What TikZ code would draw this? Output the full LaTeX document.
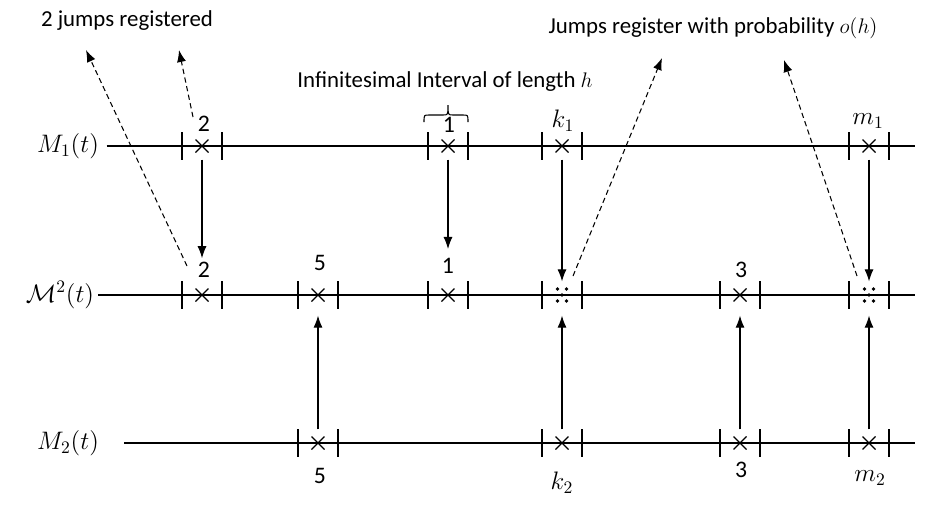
\documentclass[tikz,border=0pt]{standalone}
\usepackage{fontspec}
\setmainfont{Carlito}
\usetikzlibrary{arrows.meta}

\tikzset{
	slot/.style={minimum width=0.78cm, minimum height=0.52cm, inner sep=0pt},
	tick/.style={line width=0.9pt},
	num/.style={font=\fontsize{13.5}{15}\selectfont, inner sep=2pt},
	proc/.style={font=\fontsize{14}{16}\selectfont, inner sep=2pt},
	jumparrow/.style={-{Latex[length=2.4mm,width=1.8mm]}, line width=0.6pt},
	notearrow/.style={jumparrow, dash pattern=on 3pt off 2pt},
}

\begin{document}
\begin{tikzpicture}[x=0.02cm, y=-0.02cm, line width=0.7pt, font=\fontsize{13}{15}\selectfont]
	\useasboundingbox (0,0) rectangle (942,508);

	% process names and time lines
	\node[proc] (m1) at (68,146) {$M_1(t)$};
	\node[proc] (mm) at (60,295) {$\mathcal{M}^2(t)$};
	\node[proc] (m2) at (68,443) {$M_2(t)$};
	\coordinate (e1) at (915,146);
	\coordinate (e2) at (915,295);
	\coordinate (e3) at (915,443);
	\draw[shorten <=2pt] (m1.east) -- (e1);
	\draw (mm.east) -- (e2);
	\draw[shorten <=12pt] (m2.east) -- (e3);

	% intervals with one jump
	\foreach \n/\x/\y in {a1/202/146, a2/448/146, a3/562/146, a4/869/146,
		b1/202/295, b2/318/295, b3/448/295, b5/740/295,
		c1/318/443, c2/562/443, c3/740/443, c4/869/443} {
		\node[slot] (\n) at (\x,\y) {};
		\draw[tick] (\n.north west) -- (\n.south west);
		\draw[tick] (\n.north east) -- (\n.south east);
		\draw[line width=0.65pt] ([shift={(-6.5,-6.5)}]\n.center) -- ([shift={(6.5,6.5)}]\n.center);
		\draw[line width=0.65pt] ([shift={(-6.5,6.5)}]\n.center) -- ([shift={(6.5,-6.5)}]\n.center);
	}

	% intervals with two jumps
	\foreach \n/\x/\y in {b4/562/295, b6/869/295} {
		\node[slot] (\n) at (\x,\y) {};
		\draw[tick] (\n.north west) -- (\n.south west);
		\draw[tick] (\n.north east) -- (\n.south east);
		\foreach \dx/\dy in {-4.5/-6, 4.5/-6, 0/0, -4.5/6, 4.5/6}
			\fill ([shift={(\dx,\dy)}]\n.center) circle (1.1pt);
	}

	% jump labels
	\node[num] (la1) at (204,124) {2};
	\node[num] (la2) at (449,125) {1};
	\node[proc] (la3) at (563,121) {$k_1$};
	\node[proc] (la4) at (868,121) {$m_1$};
	\node[num] (lb1) at (204,270) {2};
	\node[num] (lb2) at (320,263) {5};
	\node[num] (lb3) at (448,266) {1};
	\node[num] (lb5) at (741,270) {3};
	\node[num] (lc1) at (320,476) {5};
	\node[proc] (lc2) at (562,483) {$k_2$};
	\node[num] (lc3) at (741,470) {3};
	\node[proc] (lc4) at (870,478) {$m_2$};

	% brace over the interval
	\draw[line width=0.6pt] (424,122) .. controls (424,115) .. (429,115) -- (443,115)
		.. controls (448,115) .. (448,105) .. controls (448,115) .. (453,115) -- (463,115)
		.. controls (468,115) .. (468,122);

	% notes
	\node (n1) at (127,21) {2 jumps registered};
	\node (n2) at (445,82) {Infinitesimal Interval of length $h$};
	\node (n3) at (713,28) {Jumps register with probability $o(h)$};

	% superposition arrows
	\draw[jumparrow] (a1.south) -- (a1.south |- lb1.north);
	\draw[jumparrow, shorten >=3pt] (a2.south) -- (lb3.north);
	\draw[jumparrow] (a3.south) -- (b4.north);
	\draw[jumparrow] (a4.south) -- (b6.north);
	\draw[jumparrow, shorten >=4pt] (c1.north) -- (b2.south);
	\draw[jumparrow, shorten >=4pt] (c2.north) -- (b4.south);
	\draw[jumparrow, shorten >=4pt] (c3.north) -- (b5.south);
	\draw[jumparrow, shorten >=4pt] (c4.north) -- (b6.south);

	% dashed pointers to the notes
	\coordinate (s1) at (187,266);
	\coordinate (t1) at (86,50);
	\coordinate (s2) at (193,117);
	\coordinate (t2) at (179,50);
	\coordinate (s3) at (573,276);
	\coordinate (t3) at (662,58);
	\coordinate (s4) at (857,276);
	\coordinate (t4) at (784,60);
	\draw[notearrow] (s1) -- (t1);
	\draw[notearrow] (s2) -- (t2);
	\draw[notearrow] (s3) -- (t3);
	\draw[notearrow] (s4) -- (t4);
\end{tikzpicture}
\end{document}
